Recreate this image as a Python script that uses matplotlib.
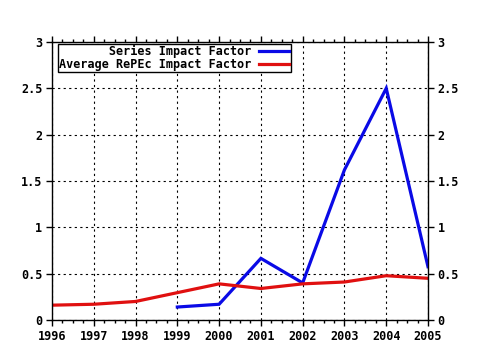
import matplotlib
matplotlib.use("Agg")
import matplotlib.pyplot as plt
from matplotlib.ticker import MultipleLocator, FuncFormatter

# impact factor by year
series_years = [1999, 2000, 2001, 2002, 2003, 2004, 2005]
series_if = [0.14, 0.17, 0.665, 0.40, 1.62, 2.50, 0.575]

avg_years = [1996, 1997, 1998, 1999, 2000, 2001, 2002, 2003, 2004, 2005]
avg_if = [0.16, 0.17, 0.20, 0.295, 0.39, 0.34, 0.39, 0.41, 0.478, 0.45]

labels = ["       Series Impact Factor", "Average RePEc Impact Factor"]

plt.rcParams['font.family'] = 'DejaVu Sans Mono'
plt.rcParams['font.weight'] = 'bold'
plt.rcParams['font.size'] = 8.5

fig = plt.figure(figsize=(4.8, 3.5), dpi=100)
ax = fig.add_axes([52/480, 30/350, 376/480, 278/350])

ax.plot(series_years, series_if, color='#0a0ae6', lw=2.3, label=labels[0],
        solid_joinstyle='miter')
ax.plot(avg_years, avg_if, color='#e01010', lw=2.3, label=labels[1],
        solid_joinstyle='miter')

ax.set_xlim(1996, 2005)
ax.set_ylim(0, 3)
ax.xaxis.set_major_locator(MultipleLocator(1))
ax.xaxis.set_minor_locator(MultipleLocator(0.25))
ax.yaxis.set_major_locator(MultipleLocator(0.5))
ax.yaxis.set_major_formatter(FuncFormatter(lambda v, p: '%g' % v))
ax.xaxis.set_major_formatter(FuncFormatter(lambda v, p: '%d' % v))

ax.tick_params(which='both', direction='out', top=True, right=True,
               labelright=True, color='black', width=1)
ax.tick_params(which='major', length=4, pad=3)
ax.tick_params(which='minor', length=2)
for s in ax.spines.values():
    s.set_linewidth(1)
    s.set_color('black')

ax.grid(True, which='major', color='black', lw=0.8, ls=(0, (2, 3)))
ax.set_axisbelow(True)

leg = ax.legend(loc='upper left', bbox_to_anchor=(0.016, 0.993),
                borderaxespad=0, markerfirst=False, handlelength=2.6,
                handletextpad=0.6, borderpad=0.1, labelspacing=0.0,
                fancybox=False, framealpha=1, edgecolor='black')
leg.get_frame().set_linewidth(1)

fig.savefig('out.png', dpi=100)
